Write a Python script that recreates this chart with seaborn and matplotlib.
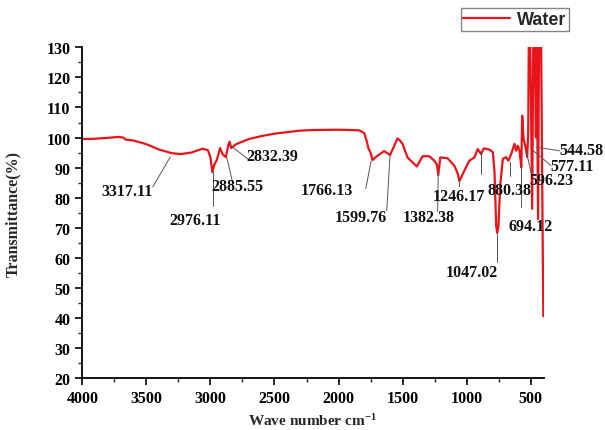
import numpy as np
import pandas as pd
import matplotlib
matplotlib.use("Agg")
import matplotlib.pyplot as plt
import seaborn as sns

# ---- spectrum (wavenumber, transmittance) ----
wavenumber = [4000, 3900, 3800, 3720, 3680, 3660, 3600, 3500, 3400, 3300, 3230,
              3150, 3060, 3020, 3000, 2985, 2970, 2950, 2925, 2905, 2880, 2860,
              2850, 2838, 2800, 2700, 2600, 2500, 2400, 2300, 2200, 2000, 1900,
              1840, 1800, 1785, 1765, 1750, 1735, 1710, 1645, 1598, 1540, 1520,
              1500, 1462, 1436, 1389, 1344, 1292, 1253, 1232, 1222, 1206, 1149,
              1096, 1070, 1057, 1031, 980, 940, 914, 888, 867, 823, 796, 783,
              770, 762, 752, 739, 718, 693, 674, 653, 627, 614, 601, 588, 574,
              567, 556, 543, 528, 520, 515, 505, 489, 480, 470, 460, 455, 443,
              435, 420, 406, 402]
transmittance = [99.5, 99.6, 99.9, 100.2, 100.0, 99.3, 99.0, 97.8, 96.0, 94.8, 94.5,
                 95.0, 96.3, 95.8, 93.5, 88.5, 91.0, 92.5, 96.5, 94.5, 93.5, 97.5,
                 98.6, 96.5, 97.8, 99.5, 100.5, 101.3, 101.8, 102.3, 102.5, 102.6, 102.5,
                 102.4, 101.5, 99.5, 96.2, 95.0, 92.5, 93.5, 95.5, 94.2, 99.7, 99.0,
                 97.8, 93.4, 92.3, 90.4, 93.8, 93.8, 92.3, 91.0, 87.5, 93.4, 93.1,
                 90.6, 88.0, 85.5, 87.9, 92.3, 93.4, 96.2, 94.5, 96.4, 96.0, 95.1, 88.5,
                 70.7, 68.3, 70.7, 84.0, 92.9, 93.5, 92.3, 94.5, 97.9, 95.6, 97.3, 95.6, 90.1,
                 107.3, 99.5, 97.3, 93.5, 101.7, 135, 135, 76.3, 135, 135, 100, 135, 72.9,
                 135, 135, 60, 40.6]

# ---- peak annotations: label, leader start (wn, T), leader end (wn, T), text centre (wn, T)
peak_labels = ["3317.11", "2976.11", "2885.55", "2832.39", "1766.13", "1599.76",
               "1382.38", "1246.17", "880.38", "1047.02", "694.12", "596.23",
               "577.11", "544.58"]
lead_x0 = [3314, 2981, 2876, 2842, 1747, 1598, 1222, 1058, 888, 763, 575, 536, 497, 458]
lead_y0 = [93.5, 88.5, 94.0, 97.3, 92.1, 94.5, 88.5, 86.2, 95.1, 68.3, 90.1, 95.6, 96.2, 96.8]
lead_x1 = [3450, 2981, 2830, 2709, 1787, 1624, 1227, 1058, 888, 763, 575, 497, 342, 275]
lead_y1 = [83.6, 77.2, 85.7, 92.9, 83.1, 75.7, 75.4, 84.0, 87.9, 58.6, 76.8, 88.2, 90.7, 95.6]
text_x = [3650, 3118, 2789, 2516, 2093, 1827, 1297, 1063, 663, 960, 505, 340, 178, 102]
text_y = [82.2, 72.7, 83.8, 94.0, 82.6, 73.5, 73.5, 80.5, 82.7, 55.4, 70.5, 85.9, 90.5, 96.0]
extra_x = [659]
extra_y0 = [91.8]
extra_y1 = [87.3]

x_ticks = [4000, 3500, 3000, 2500, 2000, 1500, 1000, 500]
y_ticks = [20, 30, 40, 50, 60, 70, 80, 90, 100, 110, 120, 130]

sns.set_style("ticks")
plt.rcParams["font.family"] = ["Liberation Serif", "DejaVu Serif"]
plt.rcParams["font.weight"] = "bold"
plt.rcParams["mathtext.fontset"] = "custom"
plt.rcParams["mathtext.rm"] = "Liberation Serif:bold"
plt.rcParams["mathtext.bf"] = "Liberation Serif:bold"
plt.rcParams["mathtext.default"] = "bf"

fig = plt.figure(figsize=(6.05, 4.31), dpi=100)
ax = fig.add_axes([0.136, 0.12, 0.7625, 0.768])

df = pd.DataFrame({"wn": wavenumber, "T": transmittance})
sns.lineplot(data=df, x="wn", y="T", ax=ax, color="#e8141a", lw=1.6,
             estimator=None, sort=False, label="Water", legend=False)

ax.set_xlim(4000, 400)
ax.set_ylim(20, 130)
ax.set_xticks(x_ticks)
ax.set_yticks(y_ticks)
ax.set_xticks(np.arange(3750, 400, -500), minor=True)
ax.set_yticks(np.arange(25, 130, 10), minor=True)
ax.tick_params(axis="both", which="major", direction="out", length=5, width=1.2,
               labelsize=11.5, colors="black")
ax.tick_params(axis="both", which="minor", direction="out", length=3, width=1.0)
for lab in ax.get_xticklabels() + ax.get_yticklabels():
    lab.set_fontweight("bold")

for side in ["top", "right"]:
    ax.spines[side].set_visible(False)
for side in ["left", "bottom"]:
    ax.spines[side].set_color("black")
    ax.spines[side].set_linewidth(1.3)

ax.set_xlabel("Wave number cm$^{-1}$", fontsize=11, fontweight="bold", labelpad=4)
ax.set_ylabel("Transmittance(%)", fontsize=11.5, fontweight="bold", labelpad=18)

for lab, x0, y0, x1, y1, tx, ty in zip(peak_labels, lead_x0, lead_y0, lead_x1,
                                       lead_y1, text_x, text_y):
    ax.plot([x0, x1], [y0, y1], color="#555555", lw=0.7, clip_on=False)
    ax.text(tx, ty, lab, ha="center", va="center", fontsize=11.5,
            fontweight="bold", color="#111111", clip_on=False)
for ex, e0, e1 in zip(extra_x, extra_y0, extra_y1):
    ax.plot([ex, ex], [e0, e1], color="#555555", lw=0.7)

handles = [plt.Line2D([], [], color="#e8141a", lw=1.6)]
leg = fig.legend(handles, ["Water"], loc="upper right",
                 bbox_to_anchor=(0.94, 0.978), frameon=True, fancybox=False,
                 prop={"family": "Liberation Sans", "size": 13},
                 handlelength=2.6, handletextpad=0.35, borderpad=0.15,
                 borderaxespad=0.0)
leg.get_frame().set_edgecolor("#666666")
leg.get_frame().set_linewidth(1.0)

fig.savefig("out.png", dpi=100)
